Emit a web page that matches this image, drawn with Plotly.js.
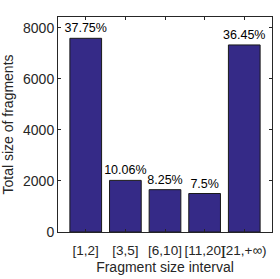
<!DOCTYPE html>
<html><head><meta charset="utf-8">
<script src="https://cdn.plot.ly/plotly-3.0.1.min.js"></script>
<style>html,body{margin:0;padding:0;background:#fff}#c{width:280px;height:279px}</style>
</head><body><div id="c"></div>
<script>
const categories = ["[1,2]", "[3,5]", "[6,10]", "[11,20]", "[21,+∞)"];
const values = [7595, 2024, 1660, 1509, 7334];
const percentLabels = ["37.75%", "10.06%", "8.25%", "7.5%", "36.45%"];
const yTicks = [0, 2000, 4000, 6000, 8000];

const xs = categories.map((_, i) => i + 1);
const axisColor = "#262626";
const trace = {
  type: "bar", x: xs, y: values, width: 0.8,
  marker: {color: "#352a87", line: {color: "#1a1a1a", width: 1}},
  text: percentLabels, textposition: "outside", cliponaxis: false, constraintext: "none",
  textfont: {family: "Liberation Sans, Arial, sans-serif", size: 12.5, color: "#000"},
  hoverinfo: "none"
};
const layout = {
  width: 280, height: 279,
  margin: {l: 58, r: 8, t: 17, b: 47},
  paper_bgcolor: "#fff", plot_bgcolor: "#fff",
  showlegend: false,
  font: {family: "Liberation Sans, Arial, sans-serif", size: 14, color: axisColor},
  xaxis: {
    range: [0.3, 5.7], tickvals: xs, ticktext: categories, tickangle: 0,
    ticks: "inside", ticklen: 3, tickcolor: axisColor, tickwidth: 1,
    ticklabelstandoff: 6,
    showline: true, linecolor: axisColor, linewidth: 1, mirror: "allticks",
    showgrid: false, zeroline: false,
    tickfont: {size: 13.5, color: axisColor},
    title: {text: "Fragment size interval", font: {size: 14, color: axisColor}, standoff: 4}
  },
  yaxis: {
    range: [0, 8430], tickvals: yTicks,
    ticks: "inside", ticklen: 3, tickcolor: axisColor, tickwidth: 1,
    showline: true, linecolor: axisColor, linewidth: 1, mirror: "allticks",
    showgrid: false, zeroline: false,
    tickfont: {size: 14, color: axisColor},
    title: {text: "Total size of fragments", font: {size: 14, color: axisColor}, standoff: 8}
  },
  bargap: 0.2
};
Plotly.newPlot("c", [trace], layout, {displayModeBar: false, staticPlot: true});
</script></body></html>
